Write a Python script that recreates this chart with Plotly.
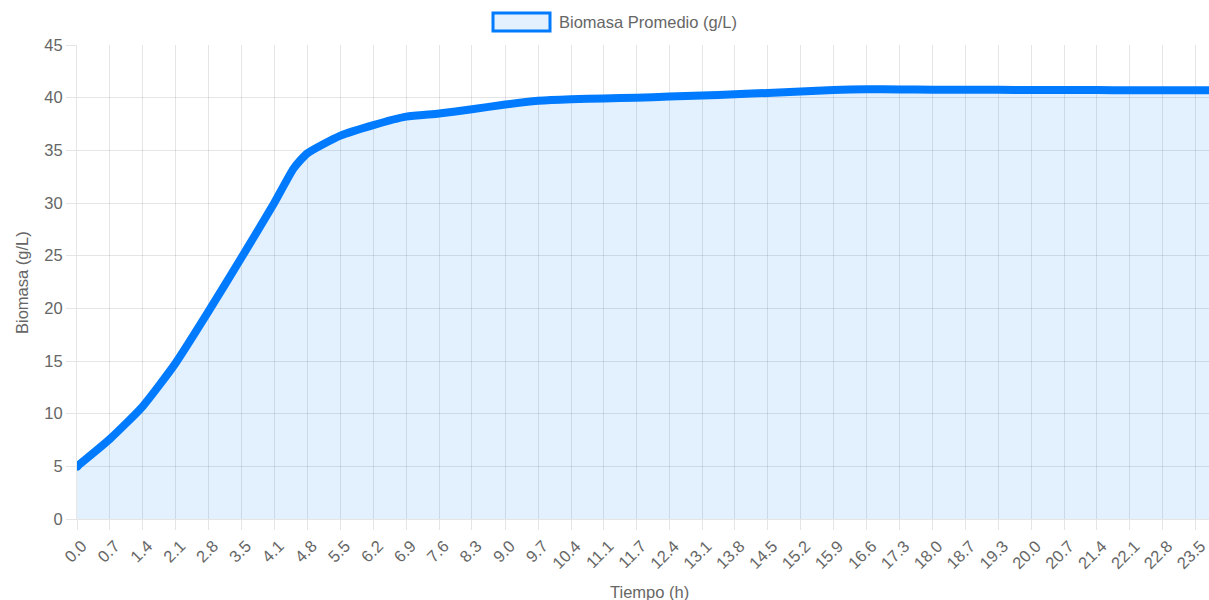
import plotly.graph_objects as go

# ---- data ----
tiempo_h = [0.00, 0.69, 1.38, 2.07, 2.76, 3.45, 4.14, 4.55, 4.83, 5.53, 6.22, 6.91,
            7.60, 8.29, 8.99, 9.68, 10.37, 11.06, 11.74, 12.43, 13.12, 13.81, 14.50,
            15.19, 15.88, 16.58, 17.27, 17.96, 18.65, 19.34, 20.03, 20.72, 21.41,
            22.10, 22.79, 23.48, 24.00]
biomasa = [5.0, 7.6, 10.7, 14.8, 19.7, 24.8, 30.0, 33.3, 34.7, 36.4, 37.4, 38.2,
           38.5, 38.9, 39.35, 39.7, 39.85, 39.92, 40.0, 40.1, 40.2, 40.32, 40.45,
           40.58, 40.72, 40.8, 40.78, 40.76, 40.75, 40.74, 40.73, 40.72, 40.72,
           40.71, 40.71, 40.7, 40.7]

ticks_h = [0.00, 0.69, 1.38, 2.07, 2.76, 3.45, 4.14, 4.83, 5.53, 6.22, 6.91, 7.60,
           8.29, 8.99, 9.68, 10.37, 11.06, 11.74, 12.43, 13.12, 13.81, 14.50, 15.19,
           15.88, 16.58, 17.27, 17.96, 18.65, 19.34, 20.03, 20.72, 21.41, 22.10,
           22.79, 23.48]
etiquetas = ["0.0", "0.7", "1.4", "2.1", "2.8", "3.5", "4.1", "4.8", "5.5", "6.2",
             "6.9", "7.6", "8.3", "9.0", "9.7", "10.4", "11.1", "11.7", "12.4", "13.1",
             "13.8", "14.5", "15.2", "15.9", "16.6", "17.3", "18.0", "18.7", "19.3",
             "20.0", "20.7", "21.4", "22.1", "22.8", "23.5"]

serie_nombre = "Biomasa Promedio (g/L)"
x_titulo = "Tiempo (h)"
y_titulo = "Biomasa (g/L)"

# ---- layout geometry ----
W, H = 1209, 600
ML, MR, MT, MB = 77, 0, 45, 81
PW, PH = W - ML - MR, H - MT - MB
PX_PER_H = 47.64

def px(xp):
    return (xp - ML) / PW

def py(yp):
    return (H - MB - yp) / PH

AZUL = "#007bff"
RELLENO = "rgba(0,123,255,0.11)"
GRIS = "#666666"
GRID = "rgba(0,0,0,0.1)"
FONT = "Arial, 'Liberation Sans', sans-serif"

fig = go.Figure()
fig.add_trace(go.Scatter(
    x=tiempo_h, y=biomasa, name=serie_nombre,
    mode="lines", fill="tozeroy", fillcolor=RELLENO,
    line=dict(color=AZUL, width=8, shape="spline", smoothing=0.55),
    showlegend=False, hoverinfo="x+y",
))
# round start cap like the reference
fig.add_trace(go.Scatter(
    x=tiempo_h[:1], y=biomasa[:1], mode="markers",
    marker=dict(color=AZUL, size=9), showlegend=False, hoverinfo="skip",
))

fig.update_layout(
    width=W, height=H,
    margin=dict(l=ML, r=MR, t=MT, b=MB, pad=0),
    paper_bgcolor="white", plot_bgcolor="white",
    font=dict(family=FONT, size=16.5, color=GRIS),
    xaxis=dict(
        range=[0, PW / PX_PER_H],
        tickmode="array", tickvals=ticks_h, ticktext=etiquetas,
        tickangle=-45, ticks="outside", ticklen=10, tickcolor=GRID,
        ticklabelshift=5, ticklabeloverflow="allow",
        showgrid=True, gridcolor=GRID, gridwidth=1,
        showline=True, linecolor=GRID, linewidth=1,
        zeroline=False, tickfont=dict(size=16.5, color=GRIS),
    ),
    yaxis=dict(
        range=[0, 45], dtick=5, tick0=0,
        ticks="outside", ticklen=10, tickcolor=GRID,
        showgrid=True, gridcolor=GRID, gridwidth=1,
        showline=True, linecolor=GRID, linewidth=1,
        zeroline=False, tickfont=dict(size=16.5, color=GRIS),
    ),
    shapes=[dict(
        type="rect", xref="paper", yref="paper",
        x0=px(493), x1=px(550), y0=py(31), y1=py(13),
        fillcolor=RELLENO, line=dict(color=AZUL, width=3),
    )],
    annotations=[
        dict(text=serie_nombre, xref="paper", yref="paper", x=px(557), y=py(22),
             xanchor="left", yanchor="middle", showarrow=False,
             font=dict(size=16.5, color=GRIS)),
        dict(text=x_titulo, xref="paper", yref="paper", x=px(649), y=py(592),
             xanchor="center", yanchor="middle", showarrow=False,
             font=dict(size=16.5, color=GRIS)),
        dict(text=y_titulo, xref="paper", yref="paper", x=px(22), y=py(283),
             xanchor="center", yanchor="middle", showarrow=False, textangle=-90,
             font=dict(size=16.5, color=GRIS)),
    ],
)

fig.write_html("out.html", config={"displayModeBar": False},
               post_script="document.body.style.margin='0px';document.body.style.overflow='hidden';")
